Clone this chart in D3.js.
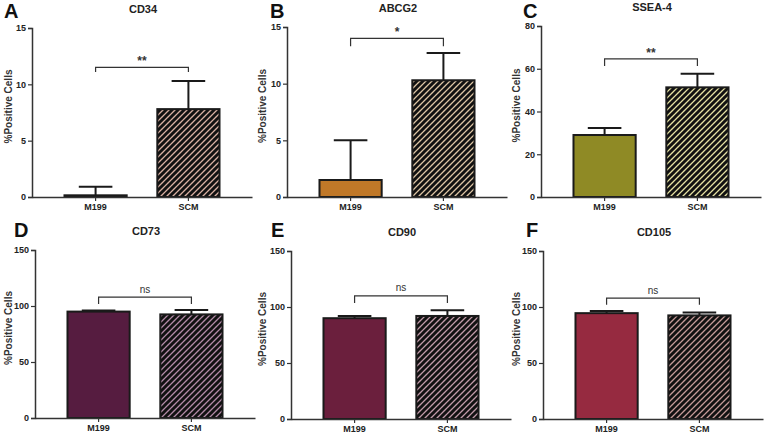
<!DOCTYPE html>
<html><head><meta charset="utf-8">
<script src="https://cdn.jsdelivr.net/npm/d3@7"></script>
<style>body{margin:0;background:#fff}svg{display:block}text{font-family:"Liberation Sans",Arial,sans-serif}</style>
</head><body><svg id="c" width="764" height="436"></svg>
<script>
const groups = ["M199", "SCM"];
const panelLetters = ["A", "B", "C", "D", "E", "F"];
const markers = ["CD34", "ABCG2", "SSEA-4", "CD73", "CD90", "CD105"];
const meanM199 = [0.15, 1.5, 29, 95, 90, 94.5];
const meanSCM = [7.8, 10.3, 51.3, 92.5, 92, 92.5];
const upperM199 = [0.9, 5.0, 32.3, 96, 92, 96.5];
const upperSCM = [10.3, 12.7, 57.7, 96.5, 97, 95];
const yMax = [15, 15, 80, 150, 150, 150];
const yTicks = [[0, 5, 10, 15], [0, 5, 10, 15], [0, 20, 40, 60, 80], [0, 50, 100, 150], [0, 50, 100, 150], [0, 50, 100, 150]];
const signif = ["**", "*", "**", "ns", "ns", "ns"];
const bracketTop = [11.5, 14.0, 64.6, 108, 110, 108];
const bracketLeg = [11.1, 13.3, 61.3, 101.7, 103.5, 102];
const colM199 = ["#2a1e1a", "#c07828", "#8f8a25", "#561c40", "#6b1f3d", "#962a40"];
const colSCM = ["#d8b0a2", "#dcc4a4", "#e4e0a2", "#b28aa6", "#c09aa8", "#c49a98"];

// layout (not data)
const layout = [
  {x0: 32, top: 28, bot: 197, lx: 4, ly: 18, yl: 8},
  {x0: 287, top: 27, bot: 197, lx: 270, ly: 18, yl: 262},
  {x0: 541, top: 26, bot: 197, lx: 523, ly: 18, yl: 516},
  {x0: 35, top: 250, bot: 418, lx: 14, ly: 237, yl: 8},
  {x0: 291, top: 251, bot: 419, lx: 271, ly: 237, yl: 262},
  {x0: 543, top: 251, bot: 419, lx: 526, ly: 237, yl: 516}
];

const svg = d3.select("#c");
const defs = svg.append("defs");

layout.forEach((L, i) => {
  const pid = "hatch" + i;
  const p = defs.append("pattern").attr("id", pid).attr("patternUnits", "userSpaceOnUse")
    .attr("width", 6).attr("height", 6);
  p.append("rect").attr("width", 6).attr("height", 6).attr("fill", colSCM[i]);
  p.append("path").attr("d", "M-1,1 L1,-1 M0,6 L6,0 M5,7 L7,5")
    .attr("stroke", "#111").attr("stroke-width", 3);

  const g = svg.append("g");
  const x = d3.scaleBand().domain(groups).range([L.x0, L.x0 + 220]).paddingInner(0.33).paddingOuter(0.35);
  const y = d3.scaleLinear().domain([0, yMax[i]]).range([L.bot, L.top]);

  const means = [meanM199[i], meanSCM[i]];
  const uppers = [upperM199[i], upperSCM[i]];
  const bw = x.bandwidth();

  // error bars (behind bars)
  groups.forEach((gname, j) => {
    const cx = x(gname) + bw / 2;
    g.append("line").attr("x1", cx).attr("x2", cx).attr("y1", y(means[j])).attr("y2", y(uppers[j]))
      .attr("stroke", "#1a1a1a").attr("stroke-width", 2);
    g.append("line").attr("x1", cx - bw * 0.27).attr("x2", cx + bw * 0.27).attr("y1", y(uppers[j])).attr("y2", y(uppers[j]))
      .attr("stroke", "#1a1a1a").attr("stroke-width", 2);
  });

  // bars
  groups.forEach((gname, j) => {
    g.append("rect").attr("x", x(gname)).attr("width", bw)
      .attr("y", y(means[j])).attr("height", y(0) - y(means[j]))
      .attr("fill", j === 0 ? colM199[i] : `url(#${pid})`)
      .attr("stroke", "#1a1a1a").attr("stroke-width", 2);
  });

  // axes
  const ya = g.append("g").attr("transform", `translate(${L.x0},0)`)
    .call(d3.axisLeft(y).tickValues(yTicks[i]).tickSize(4).tickPadding(2));
  ya.select(".domain").attr("stroke", "#333").attr("stroke-width", 1.5);
  ya.selectAll(".tick line").attr("stroke", "#333").attr("stroke-width", 1.2);
  ya.selectAll(".tick text").attr("font-size", 9).attr("font-weight", "bold").attr("fill", "#222")
    .attr("font-family", "Liberation Sans, Arial, sans-serif");

  const xa = g.append("g").attr("transform", `translate(0,${L.bot})`)
    .call(d3.axisBottom(x).tickSize(4).tickPadding(3).tickSizeOuter(0));
  xa.select(".domain").attr("stroke", "#333").attr("stroke-width", 1.5);
  xa.selectAll(".tick line").attr("stroke", "#333").attr("stroke-width", 1.2);
  xa.selectAll(".tick text").attr("font-size", 9).attr("font-weight", "bold").attr("fill", "#222")
    .attr("font-family", "Liberation Sans, Arial, sans-serif");

  // y label
  g.append("text").attr("transform", `translate(${L.yl},${(L.top + L.bot) / 2 - 6}) rotate(-90)`)
    .attr("text-anchor", "middle").attr("dominant-baseline", "central")
    .attr("font-size", 10).attr("font-weight", "bold").attr("fill", "#333").text("%Positive Cells");

  // title
  const cx1 = x(groups[0]) + bw / 2, cx2 = x(groups[1]) + bw / 2;
  g.append("text").attr("x", L.x0 + 111).attr("y", L.top - 19).attr("text-anchor", "middle")
    .attr("dominant-baseline", "central").attr("font-size", 11).attr("font-weight", "bold").attr("fill", "#222")
    .text(markers[i]);

  // panel letter
  g.append("text").attr("x", L.lx).attr("y", L.ly).attr("font-size", 20).attr("font-weight", "bold").attr("fill", "#111")
    .text(panelLetters[i]);

  // significance bracket
  const bt = y(bracketTop[i]), bl = y(bracketLeg[i]);
  g.append("path").attr("d", `M${cx1},${bl} L${cx1},${bt} L${cx2},${bt} L${cx2},${bl}`)
    .attr("fill", "none").attr("stroke", "#333").attr("stroke-width", 1.2);
  const isNs = signif[i] === "ns";
  g.append("text").attr("x", (cx1 + cx2) / 2).attr("y", isNs ? bt - 8 : bt - 6)
    .attr("text-anchor", "middle").attr("dominant-baseline", "central")
    .attr("font-size", isNs ? 10 : 12).attr("font-weight", isNs ? "normal" : "bold").attr("fill", "#333")
    .text(signif[i]);
});
</script></body></html>
